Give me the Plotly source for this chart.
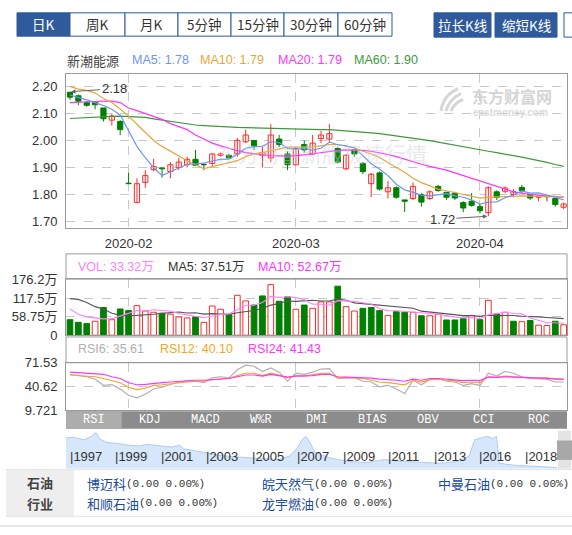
import plotly.graph_objects as go

W, H = 572, 535
SANS = "Liberation Sans, Arial, Noto Sans CJK SC"
CJK = "Noto Sans CJK SC, Liberation Sans"
MONO = "Liberation Mono, Noto Sans CJK SC"

# ---------------- data ----------------
stock_name = "新潮能源"
month_tick_idx = [7, 27, 49]
month_labels = ["2020-02", "2020-03", "2020-04"]

opens = [2.178, 2.165, 2.14, 2.142, 2.12, 2.075, 2.07, 1.842, 1.77, 1.845,
         1.892, 1.898, 1.885, 1.90, 1.91, 1.93, 1.91, 1.915, 1.945, 1.945,
         1.95, 1.995, 2.00, 1.945, 1.935, 2.005, 1.95, 1.91, 1.985, 1.95,
         2.007, 2.005, 1.97, 1.895, 1.965, 1.915, 1.84, 1.88, 1.81, 1.825,
         1.78, 1.785, 1.80, 1.785, 1.83, 1.808, 1.805, 1.77, 1.775, 1.755,
         1.733, 1.81, 1.812, 1.80, 1.826, 1.80, 1.79, 1.792, 1.785, 1.753]
highs = [2.18, 2.17, 2.145, 2.145, 2.12, 2.10, 2.075, 1.88, 1.86, 1.89,
         1.932, 1.90, 1.92, 1.935, 1.94, 1.965, 1.915, 1.952, 1.955, 1.95,
         2.01, 2.04, 2.00, 1.98, 2.06, 2.02, 1.96, 1.975, 2.00, 2.02,
         2.035, 2.06, 1.975, 1.95, 1.97, 1.92, 1.88, 1.885, 1.85, 1.83,
         1.78, 1.845, 1.805, 1.815, 1.835, 1.81, 1.81, 1.775, 1.805, 1.765,
         1.83, 1.815, 1.83, 1.82, 1.835, 1.80, 1.795, 1.795, 1.785, 1.77]
lows = [2.15, 2.13, 2.125, 2.115, 2.07, 2.055, 2.02, 1.84, 1.77, 1.825,
        1.886, 1.862, 1.86, 1.89, 1.90, 1.905, 1.89, 1.905, 1.94, 1.93,
        1.94, 1.99, 1.965, 1.90, 1.92, 1.975, 1.89, 1.91, 1.955, 1.945,
        1.99, 1.99, 1.915, 1.89, 1.94, 1.875, 1.79, 1.815, 1.785, 1.785,
        1.735, 1.78, 1.755, 1.78, 1.81, 1.78, 1.78, 1.735, 1.755, 1.73,
        1.72, 1.78, 1.805, 1.79, 1.805, 1.78, 1.775, 1.775, 1.755, 1.745]
closes = [2.16, 2.145, 2.13, 2.132, 2.08, 2.09, 2.04, 1.84, 1.84, 1.87,
          1.903, 1.895, 1.91, 1.92, 1.93, 1.908, 1.91, 1.95, 1.95, 1.935,
          2.00, 2.02, 1.98, 1.955, 2.02, 1.985, 1.91, 1.97, 1.965, 1.99,
          2.02, 2.025, 1.92, 1.945, 1.95, 1.885, 1.875, 1.82, 1.825, 1.79,
          1.775, 1.83, 1.772, 1.81, 1.815, 1.79, 1.787, 1.75, 1.76, 1.74,
          1.825, 1.79, 1.824, 1.81, 1.815, 1.787, 1.792, 1.792, 1.763, 1.765]

ma5 = [2.168, 2.16, 2.15, 2.14, 2.129, 2.115, 2.094, 2.036, 1.978, 1.936,
       1.899, 1.870, 1.884, 1.900, 1.912, 1.913, 1.916, 1.924, 1.930, 1.931,
       1.949, 1.971, 1.977, 1.978, 1.995, 1.992, 1.970, 1.968, 1.970, 1.964,
       1.971, 1.994, 1.984, 1.980, 1.972, 1.944, 1.914, 1.894, 1.870, 1.838,
       1.817, 1.808, 1.798, 1.795, 1.800, 1.803, 1.795, 1.790, 1.780, 1.765,
       1.772, 1.773, 1.788, 1.798, 1.813, 1.805, 1.806, 1.799, 1.790, 1.780]
ma10 = [2.20, 2.19, 2.185, 2.175, 2.155, 2.14, 2.116, 2.09, 2.06, 2.03,
        2.00, 1.978, 1.96, 1.94, 1.925, 1.91, 1.896, 1.903, 1.91, 1.917,
        1.925, 1.94, 1.95, 1.955, 1.962, 1.97, 1.975, 1.975, 1.975, 1.976,
        1.98, 1.985, 1.985, 1.98, 1.973, 1.96, 1.95, 1.937, 1.92, 1.90,
        1.882, 1.86, 1.844, 1.832, 1.82, 1.814, 1.807, 1.80, 1.795, 1.787,
        1.79, 1.792, 1.792, 1.793, 1.795, 1.794, 1.793, 1.792, 1.79, 1.79]
ma20 = [2.14, 2.142, 2.143, 2.144, 2.145, 2.145, 2.14, 2.12, 2.11, 2.10,
        2.09, 2.078, 2.062, 2.05, 2.04, 2.02, 2.004, 1.99, 1.98, 1.97,
        1.962, 1.955, 1.95, 1.947, 1.944, 1.942, 1.942, 1.944, 1.946, 1.95,
        1.955, 1.96, 1.963, 1.965, 1.965, 1.963, 1.96, 1.955, 1.948, 1.94,
        1.93, 1.92, 1.912, 1.904, 1.897, 1.89, 1.88, 1.87, 1.86, 1.85,
        1.84, 1.828, 1.818, 1.81, 1.805, 1.80, 1.797, 1.795, 1.792, 1.79]
ma60 = [2.081, 2.083, 2.085, 2.087, 2.088, 2.089, 2.09, 2.089, 2.087, 2.085,
        2.08, 2.075, 2.07, 2.065, 2.06, 2.057, 2.055, 2.053, 2.05, 2.049,
        2.048, 2.047, 2.046, 2.045, 2.044, 2.043, 2.042, 2.041, 2.041, 2.04,
        2.04, 2.04, 2.038, 2.035, 2.033, 2.03, 2.028, 2.025, 2.021, 2.017,
        2.013, 2.009, 2.004, 1.999, 1.994, 1.988, 1.983, 1.978, 1.972, 1.966,
        1.96, 1.955, 1.95, 1.944, 1.938, 1.932, 1.926, 1.919, 1.911, 1.904]

vol = [49.5, 41, 37, 44.5, 88, 49.5, 83.5, 78.5, 94, 77,
       73, 70, 67, 58, 55, 58, 41, 93, 82.5, 65,
       127, 109, 96, 125, 161, 108, 122, 82.5, 96, 85.6,
       106, 106, 156, 91, 77, 85.6, 88, 78.5, 63, 75,
       73, 73, 62, 62, 67, 48.5, 48.5, 52.5, 63, 49.5,
       111, 68, 73, 44.5, 43, 47, 32, 31, 44.5, 33.32]
vol_ma5 = [83.5, 67, 58.5, 55, 52, 52, 60.5, 68.8, 78.7, 76.5,
           81.2, 78.5, 76.2, 69, 64.6, 61.6, 55.8, 61, 65.9, 67.9,
           81.7, 95.3, 95.9, 104.4, 123.6, 119.8, 122.4, 119.7, 113.9, 98.8,
           98.4, 95.2, 109.9, 108.9, 107.2, 103.1, 99.5, 84, 78.4, 78,
           75.5, 72.5, 69.2, 69, 67.4, 62.5, 57.6, 55.7, 55.9, 52.4,
           64.9, 68.8, 72.9, 69.2, 67.9, 55.1, 47.9, 39.5, 39.5, 37.51]
vol_ma10 = [116.5, 114, 104, 91, 83.5, 70, 64, 62, 63, 64.3,
            66.6, 69.5, 72.5, 73.9, 70.6, 71.4, 67.2, 68.6, 67.5, 66.3,
            71.7, 75.6, 78.5, 85.2, 95.8, 100.8, 108.9, 107.8, 109.2, 111.2,
            109.1, 108.8, 114.8, 111.4, 103, 100.8, 97.4, 97, 93.7, 92.6,
            89.3, 86, 76.6, 73.7, 72.7, 69, 65.1, 62.5, 62.5, 59.9,
            63.7, 63.2, 64.3, 62.6, 60.2, 60, 58.4, 56.2, 54.4, 52.67]

rsi6 = [56.4, 55, 53.2, 50, 42, 43, 37, 29, 25.7, 30.3,
        37.2, 39.5, 42.7, 46.3, 47.7, 47.3, 45.4, 51.8, 53.2, 51.8,
        62.4, 68.3, 66.9, 60.1, 64.7, 59.2, 47.3, 57.8, 56.4, 59.2,
        63.3, 63.7, 50.9, 51.8, 51.8, 47.3, 46.3, 40, 42, 37.2,
        31.2, 48.6, 42.7, 49.5, 50.9, 47.3, 46.3, 41.8, 44.1, 41.8,
        57.8, 54.1, 60.1, 57.8, 53.2, 50.9, 50.9, 50, 46.3, 46.3]
rsi12 = [55.5, 55, 54.1, 53.2, 50.9, 48.6, 45.4, 39.5, 36.3, 38.1,
         41.8, 42.7, 44.1, 45.4, 46.3, 47.3, 47.3, 49.5, 50, 50.9,
         54.6, 57.8, 57.8, 54.6, 57.8, 55.5, 51.8, 54.6, 54.1, 55.5,
         57.8, 57.8, 51.8, 52.3, 51.8, 50.9, 48.6, 46.3, 45.4, 44.1,
         42.7, 48.6, 46.3, 49.5, 50, 48.6, 47.7, 45.4, 46.3, 45.4,
         53.2, 52.3, 54.1, 53.2, 52.3, 51.8, 51.8, 51.8, 50, 49.5]
rsi24 = [59.2, 58.5, 57.8, 57, 56.4, 53.2, 50.9, 45.4, 42.7, 43.1,
         44.5, 45.4, 46.3, 47.3, 48.2, 48.6, 48.6, 49.5, 50, 50.9,
         53.2, 55.5, 55.5, 54.1, 56.4, 54.6, 52.8, 54.1, 54.1, 54.6,
         56.4, 56.4, 53.2, 52.8, 52.8, 52.3, 51.4, 50, 49.5, 48.6,
         47.3, 50, 48.6, 50.9, 50.9, 50, 49.5, 48.2, 48.6, 48.2,
         52.8, 52.3, 53.2, 52.8, 52.3, 51.8, 51.4, 51.4, 50.5, 50]
rsi_legend = [("RSI6", 35.61), ("RSI12", 40.10), ("RSI24", 41.43)]

price_ticks = [1.70, 1.80, 1.90, 2.00, 2.10, 2.20]
vol_ticks = [0, 58.75, 117.5, 176.2]
vol_tick_text = ["0", "58.75万", "117.5万", "176.2万"]
rsi_ticks = [9.721, 40.62, 71.53]

nav_years = ["1997", "1999", "2001", "2003", "2005", "2007", "2009", "2011", "2013", "2016", "2018"]
nav_t = [-0.08, 0.08, 0.32, 0.48, 0.58, 0.66, 0.80, 1.05, 1.29, 1.53, 1.69, 2.01, 2.25, 2.42,
         2.50, 2.74, 2.98, 3.30, 3.62, 3.95, 4.27, 4.59, 4.83, 4.99, 5.11, 5.19, 5.27, 5.39,
         5.72, 6.12, 6.52, 6.92, 7.33, 7.73, 8.13, 8.53, 8.78, 8.90, 9.02, 9.18, 9.30, 9.38,
         9.44, 9.74, 10.14, 10.55, 10.72]
nav_h = [85, 87, 80, 90, 100, 83, 73, 70, 65, 63, 67, 63, 60, 65,
         55, 50, 45, 37, 33, 30, 27, 25, 35, 55, 80, 90, 75, 45,
         30, 20, 17, 25, 20, 17, 15, 20, 35, 80, 85, 90, 83, 90,
         15, 10, 7, 5, 3]

toolbar = ["日K", "周K", "月K", "5分钟", "15分钟", "30分钟", "60分钟"]
tabs = ["RSI", "KDJ", "MACD", "W%R", "DMI", "BIAS", "OBV", "CCI", "ROC"]
industry = ["石油", "行业"]
peers = [("博迈科", "(0.00 0.00%)"), ("皖天然气", "(0.00 0.00%)"), ("中曼石油", "(0.00 0.00%)"),
         ("和顺石油", "(0.00 0.00%)"), ("龙宇燃油", "(0.00 0.00%)")]

# ---------------- colours ----------------
RED = "#ff2a2a"
GREEN = "#008000"
DOJI = "#444444"
C_MA5, C_MA10, C_MA20, C_MA60 = "#6d95ef", "#e8a63a", "#ff33ff", "#3c9a3c"
C_VMA5, C_VMA10 = "#ff80ff", "#555555"
C_R6, C_R12, C_R24 = "#b0b0b0", "#f5a623", "#ff33ff"
GRID = "#c8c8c8"
FRAME = "#9a9a9a"

n = len(closes)
idx = list(range(n))
XR = [-0.478, 59.4]


def px(x):
    return x / W


def py(y):
    return 1 - y / H


fig = go.Figure()

# ---------- candles (wicks then bodies) ----------
groups = {"up": [], "down": [], "flat": []}
for i in idx:
    if closes[i] > opens[i]:
        groups["up"].append(i)
    elif closes[i] < opens[i]:
        groups["down"].append(i)
    else:
        groups["flat"].append(i)
gcol = {"up": RED, "down": GREEN, "flat": DOJI}
for g, ids in groups.items():
    wx, wy = [], []
    for i in ids:
        wx += [i, i, None]
        wy += [lows[i], highs[i], None]
    fig.add_trace(go.Scatter(x=wx, y=wy, mode="lines", line=dict(color=gcol[g], width=1),
                             xaxis="x", yaxis="y", hoverinfo="skip"))
for g, ids in groups.items():
    fill = "white" if g == "up" else gcol[g]
    fig.add_trace(go.Bar(x=ids, base=[min(opens[i], closes[i]) for i in ids],
                         y=[max(abs(closes[i] - opens[i]), 0.0012) for i in ids],
                         width=0.62, marker=dict(color=fill, line=dict(color=gcol[g], width=1)),
                         xaxis="x", yaxis="y", hoverinfo="skip"))

for vals, col in [(ma60, C_MA60), (ma20, C_MA20), (ma10, C_MA10), (ma5, C_MA5)]:
    fig.add_trace(go.Scatter(x=idx, y=vals, mode="lines", line=dict(color=col, width=1.2),
                             xaxis="x", yaxis="y", hoverinfo="skip"))

# ---------- volume ----------
vol_up = []
for i in idx:
    ref = opens[i] if i == 0 else closes[i - 1]
    vol_up.append(closes[i] >= ref)
for up in (True, False):
    ids = [i for i in idx if vol_up[i] == up]
    fig.add_trace(go.Bar(x=ids, y=[vol[i] for i in ids], width=0.68,
                         marker=dict(color="white" if up else GREEN,
                                     line=dict(color=RED if up else GREEN, width=1)),
                         xaxis="x2", yaxis="y2", hoverinfo="skip"))
fig.add_trace(go.Scatter(x=idx, y=vol_ma10, mode="lines", line=dict(color=C_VMA10, width=1.1),
                         xaxis="x2", yaxis="y2", hoverinfo="skip"))
fig.add_trace(go.Scatter(x=idx, y=vol_ma5, mode="lines", line=dict(color=C_VMA5, width=1.1),
                         xaxis="x2", yaxis="y2", hoverinfo="skip"))

# ---------- RSI ----------
for vals, col in [(rsi6, C_R6), (rsi12, C_R12), (rsi24, C_R24)]:
    fig.add_trace(go.Scatter(x=idx, y=vals, mode="lines", line=dict(color=col, width=1.2),
                             xaxis="x3", yaxis="y3", hoverinfo="skip"))

# ---------- navigator ----------
fig.add_trace(go.Scatter(x=nav_t, y=nav_h, mode="lines", fill="tozeroy",
                         fillcolor="rgba(200,222,250,0.75)", line=dict(color="#aecbf0", width=1),
                         xaxis="x4", yaxis="y4", hoverinfo="skip"))

# ---------------- layout ----------------
dom_x = [px(66), px(567)]
axis_common = dict(showline=True, mirror=True, linecolor=FRAME, linewidth=1, zeroline=False,
                   gridcolor=GRID, griddash="dash", gridwidth=1, fixedrange=True)
tickfont = dict(family=SANS, size=13, color="#333")

layout = dict(
    width=W, height=H, margin=dict(l=0, r=0, t=0, b=0),
    paper_bgcolor="white", plot_bgcolor="white", showlegend=False, barmode="overlay",
    xaxis=dict(domain=dom_x, range=XR, anchor="y", tickvals=month_tick_idx, ticktext=month_labels,
               showgrid=True, tickfont=tickfont, ticks="outside", ticklen=4,
               tickcolor="rgba(0,0,0,0)", **axis_common),
    yaxis=dict(domain=[py(227), py(69)], range=[1.6775, 2.2454], anchor="x", tickvals=price_ticks,
               ticktext=[f"{v:.2f}" for v in price_ticks], showgrid=True, tickfont=tickfont,
               ticks="outside", ticklen=5, tickcolor="rgba(0,0,0,0)", **axis_common),
    xaxis2=dict(domain=dom_x, range=XR, anchor="y2", tickvals=month_tick_idx, showticklabels=False,
                showgrid=True, **axis_common),
    yaxis2=dict(domain=[py(337.7), py(280)], range=[0, 176.2 * 57.7 / 57.0], anchor="x2",
                tickvals=vol_ticks, ticktext=vol_tick_text, showgrid=True, tickfont=tickfont,
                ticks="outside", ticklen=5, tickcolor="rgba(0,0,0,0)", **axis_common),
    xaxis3=dict(domain=dom_x, range=XR, anchor="y3", tickvals=month_tick_idx, showticklabels=False,
                showgrid=True, **axis_common),
    yaxis3=dict(domain=[py(414.6), py(366)], range=[9.721, 71.53], anchor="x3",
                tickvals=rsi_ticks, ticktext=["9.721", "40.62", "71.53"], showgrid=True,
                tickfont=tickfont, ticks="outside", ticklen=5, tickcolor="rgba(0,0,0,0)",
                **axis_common),
    xaxis4=dict(domain=[px(66), px(557)], range=[-0.079, 10.71], anchor="y4", visible=False,
                fixedrange=True),
    yaxis4=dict(domain=[py(475), py(436)], range=[0, 105], anchor="x4", visible=False,
                fixedrange=True),
)

shapes = []
annotations = []


def rect(x0, y0, x1, y1, fill=None, line=None, lw=1, layer="above"):
    shapes.append(dict(type="rect", xref="paper", yref="paper", x0=px(x0), x1=px(x1),
                       y0=py(y1), y1=py(y0), fillcolor=fill or "rgba(0,0,0,0)",
                       line=dict(color=line or "rgba(0,0,0,0)", width=lw if line else 0),
                       layer=layer))


def hline(x0, x1, y, color, lw=1):
    shapes.append(dict(type="line", xref="paper", yref="paper", x0=px(x0), x1=px(x1),
                       y0=py(y), y1=py(y), line=dict(color=color, width=lw)))


def text(x, y, s, size=12.5, color="#333", xanchor="left", family=SANS):
    annotations.append(dict(xref="paper", yref="paper", x=px(x), y=py(y), text=s,
                            showarrow=False, xanchor=xanchor, yanchor="middle", borderpad=0,
                            font=dict(size=size, color=color, family=family)))


# toolbar
tb_edges = [17, 70, 125, 178, 231, 284, 338, 392]
for k, lab in enumerate(toolbar):
    x0, x1 = tb_edges[k], tb_edges[k + 1]
    sel = k == 0
    rect(x0, 6, x1, 30, fill="#2f5a9c" if sel else "white", line="#2f5a9c")
    text((x0 + x1) / 2, 18, lab, size=13.5, color="white" if sel else "#333",
         xanchor="center", family=CJK)
for (x0, x1, lab) in [(434, 491, "拉长K线"), (495, 557, "缩短K线")]:
    rect(x0, 6, x1, 31, fill="#2f5a9c", line="#2f5a9c")
    text((x0 + x1) / 2, 18.5, lab, size=13.5, color="white", xanchor="center", family=CJK)
rect(564, 6, 580, 31, fill="white", line="#2f5a9c")

# main legend
text(66, 55, stock_name, size=13, color="#444", family=CJK)
for (x, lab, vals, col) in [(131, "MA5", ma5, C_MA5), (199, "MA10", ma10, C_MA10),
                            (277, "MA20", ma20, C_MA20), (353, "MA60", ma60, C_MA60)]:
    text(x, 55, f"{lab}: {vals[-1]:.2f}", color=col)

# watermarks
text(322, 150, "东方财富新版极速行情", size=21, color="rgba(200,206,216,0.45)",
     xanchor="center", family=CJK)
text(512, 92, "<b>东方财富网</b>", size=16, color="#d5d5d5", xanchor="center", family=CJK)
text(510, 108.5, "<b>eastmoney.com</b>", size=10, color="#dadada", xanchor="center", family=SANS)
for (sx, sy, ex, ey, cx, cy) in [(441, 107, 458, 84, 443, 91), (446, 107, 461, 89, 449, 95),
                                 (451, 107, 463, 95, 454, 99)]:
    shapes.append(dict(type="path", xref="paper", yref="paper",
                       path=f"M {px(sx)} {py(sy)} Q {px(cx)} {py(cy)} {px(ex)} {py(ey)}",
                       line=dict(color="#d6d6d6", width=3)))

# max / min markers
imax = max(idx, key=lambda i: highs[i])
imin = min(idx, key=lambda i: lows[i])
annotations.append(dict(xref="x", yref="y", x=imax, y=highs[imax], text=f"{highs[imax]:.2f}",
                        showarrow=True, arrowhead=2, arrowsize=0.9, arrowwidth=1,
                        arrowcolor="#666", ax=44, ay=-3, standoff=1,
                        font=dict(family=SANS, size=13, color="#333")))
annotations.append(dict(xref="x", yref="y", x=imin, y=lows[imin], text=f"{lows[imin]:.2f}",
                        showarrow=True, arrowhead=2, arrowsize=0.9, arrowwidth=1,
                        arrowcolor="#666", ax=-46, ay=3, standoff=1,
                        font=dict(family=SANS, size=13, color="#333")))

# volume panel header
rect(66, 254, 567, 280, line=FRAME)
text(77, 267, f"VOL: {vol[-1]:.2f}万", color=C_VMA5)
text(167, 267, f"MA5: {vol_ma5[-1]:.2f}万", color="#333")
text(257, 267, f"MA10: {vol_ma10[-1]:.2f}万", color=C_MA20)

# RSI panel header
rect(66, 339.5, 567, 366, line=FRAME)
for (x, (lab, v), col) in zip([77, 159, 247], rsi_legend, [C_R6, C_R12, C_R24]):
    text(x, 352, f"{lab}: {v:.2f}", color=col)

# tab bar
rect(66, 416, 567, 434, fill="#8c8c8c", layer="below")
tab_w = (567 - 66) / len(tabs)
rect(66, 416, 66 + tab_w, 434, fill="#adadad", layer="below")
for k, lab in enumerate(tabs):
    text(66 + tab_w * (k + 0.5), 425, lab, size=12, color="white", xanchor="center", family=MONO)

# navigator labels + scrollbar
nav_px0, nav_px1 = 66, 557
for k, yr in enumerate(nav_years):
    xk = nav_px0 + (k - (-0.079)) / (10.71 + 0.079) * (nav_px1 - nav_px0)
    text(xk - 1, 462, "|" + yr, size=13, color="#333", family=SANS)
rect(558, 436, 571, 475, fill="#e4e4e4", layer="below")
rect(557, 446, 572, 466, fill="#a8a8a8")

# bottom industry box
hline(6, 572, 476, "#e2e2e2")
hline(6, 572, 524, "#e2e2e2")
rect(6, 476, 74, 524, fill="#eeeeee", layer="below")
text(40, 489.5, "<b>" + industry[0] + "</b>", size=13, color="#444", xanchor="center", family=CJK)
text(40, 510.5, "<b>" + industry[1] + "</b>", size=13, color="#444", xanchor="center", family=CJK)
peer_pos = [(86, 490.5), (261, 490.5), (437, 490.5), (86, 510.5), (261, 510.5)]
for (name, chg), (x, y) in zip(peers, peer_pos):
    text(x, y, name, size=13, color="#1d4b9e", family=CJK)
    text(x + 13 * len(name), y, chg, size=11, color="#333", family=MONO)
hline(0, 572, 534, "#d0d0d0")

layout["shapes"] = shapes
layout["annotations"] = annotations
fig.update_layout(**layout)
fig.write_html("out.html")
